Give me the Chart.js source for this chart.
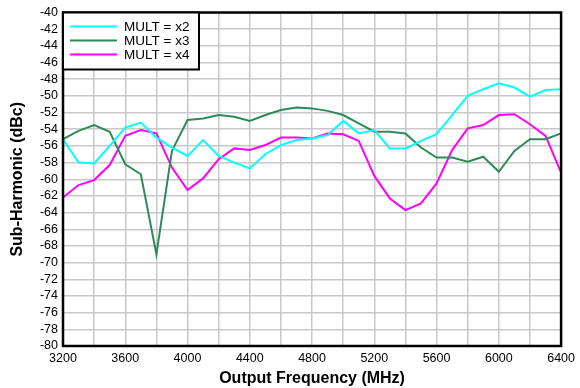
<!DOCTYPE html>
<html>
<head>
<meta charset="utf-8">
<script src="https://cdn.jsdelivr.net/npm/chart.js@4/dist/chart.umd.min.js"></script>
<style>
  html, body { margin: 0; padding: 0; background: #fff; }
  #wrap { width: 580px; height: 388px; }
</style>
</head>
<body>
<div id="wrap"><canvas id="c" width="580" height="388"></canvas></div>
<script>
// Output frequency (MHz), one point every 100 MHz
const freqs = [3200, 3300, 3400, 3500, 3600, 3700, 3800, 3900, 4000, 4100, 4200,
               4300, 4400, 4500, 4600, 4700, 4800, 4900, 5000, 5100, 5200, 5300,
               5400, 5500, 5600, 5700, 5800, 5900, 6000, 6100, 6200, 6300, 6400];

// Sub-harmonic level (dBc) for each multiplier setting
const multX2 = [-55.2, -58.0, -58.1, -56.0, -53.8, -53.2, -55.0, -56.2, -57.2, -55.3, -57.2,
                -58.0, -58.7, -57.0, -55.9, -55.3, -55.1, -54.7, -53.0, -54.5, -54.1, -56.3,
                -56.3, -55.4, -54.6, -52.3, -50.0, -49.2, -48.5, -49.0, -50.1, -49.3, -49.2];
const multX3 = [-55.2, -54.2, -53.5, -54.3, -58.2, -59.4, -69.0, -56.6, -52.9, -52.7, -52.3,
                -52.5, -53.0, -52.3, -51.7, -51.4, -51.5, -51.8, -52.3, -53.3, -54.3, -54.3,
                -54.5, -56.2, -57.4, -57.4, -57.9, -57.3, -59.1, -56.6, -55.2, -55.2, -54.5];
const multX4 = [-62.2, -60.7, -60.1, -58.3, -54.8, -54.1, -54.5, -58.6, -61.3, -59.9, -57.6,
                -56.3, -56.5, -55.9, -55.0, -55.0, -55.1, -54.5, -54.6, -55.4, -59.6, -62.3,
                -63.7, -62.9, -60.5, -56.5, -53.9, -53.5, -52.3, -52.2, -53.4, -54.8, -59.2];

const seriesNames = ['MULT = x2', 'MULT = x3', 'MULT = x4'];
const seriesColors = ['#00ffff', '#2e8b57', '#ff00ff'];

const xRange = [3200, 6400];
const yRange = [-80, -40];

const FONT = '"Liberation Sans", Arial, sans-serif';

function toPoints(values) {
  return freqs.map((f, i) => ({ x: f, y: values[i] }));
}

// Black frame round the plot area plus the boxed legend in its top-left corner
const frameAndLegend = {
  id: 'frameAndLegend',
  afterDatasetsDraw(chart) {
    const { ctx, chartArea: a } = chart;
    ctx.save();
    ctx.strokeStyle = '#000';
    ctx.lineWidth = 2.5;
    ctx.strokeRect(a.left, a.top, a.right - a.left, a.bottom - a.top);

    const bx = a.left, by = a.top, bw = 136, bh = 57;
    ctx.fillStyle = '#fff';
    ctx.fillRect(bx, by, bw, bh);
    ctx.lineWidth = 2;
    ctx.strokeRect(bx, by, bw, bh);

    ctx.font = '13.5px ' + FONT;
    ctx.textBaseline = 'middle';
    chart.data.datasets.forEach((ds, i) => {
      const yy = by + 14 + i * 14;
      ctx.strokeStyle = ds.borderColor;
      ctx.lineWidth = 2;
      ctx.beginPath();
      ctx.moveTo(bx + 7, yy);
      ctx.lineTo(bx + 54, yy);
      ctx.stroke();
      ctx.fillStyle = '#000';
      ctx.fillText(ds.label, bx + 61, yy + 0.5);
    });
    ctx.restore();
  }
};

new Chart(document.getElementById('c'), {
  type: 'line',
  data: {
    datasets: [multX2, multX3, multX4].map((vals, i) => ({
      label: seriesNames[i],
      data: toPoints(vals),
      borderColor: seriesColors[i],
      backgroundColor: seriesColors[i],
      borderWidth: 2,
      pointRadius: 0,
      tension: 0,
      fill: false
    }))
  },
  options: {
    responsive: false,
    animation: false,
    layout: { padding: { top: 11, right: 15, left: 0, bottom: 0 } },
    plugins: {
      legend: { display: false },
      tooltip: { enabled: false }
    },
    scales: {
      x: {
        type: 'linear',
        min: xRange[0],
        max: xRange[1],
        afterFit(s) { s.height = 42; },
        ticks: {
          stepSize: 200,
          autoSkip: false,
          maxRotation: 0,
          padding: 5,
          color: '#000',
          font: { family: FONT, size: 12.5 },
          callback: v => (v % 400 === 0 ? String(v) : '')
        },
        grid: { color: '#c8c8c8', lineWidth: 1.5, drawTicks: false },
        border: { display: false },
        title: {
          display: true,
          text: 'Output Frequency (MHz)',
          color: '#000',
          font: { family: FONT, size: 16, weight: 'bold' },
          padding: { top: 0, bottom: 0 }
        }
      },
      y: {
        type: 'linear',
        min: yRange[0],
        max: yRange[1],
        afterFit(s) { s.width = 63; },
        ticks: {
          stepSize: 2,
          autoSkip: false,
          padding: 5,
          color: '#000',
          font: { family: FONT, size: 12.5 },
          callback: v => String(v)
        },
        grid: { color: '#c8c8c8', lineWidth: 1.5, drawTicks: false },
        border: { display: false },
        title: {
          display: true,
          text: 'Sub-Harmonic (dBc)',
          color: '#000',
          font: { family: FONT, size: 16, weight: 'bold' },
          padding: { top: 8, bottom: 0 }
        }
      }
    }
  },
  plugins: [frameAndLegend]
});
</script>
</body>
</html>
